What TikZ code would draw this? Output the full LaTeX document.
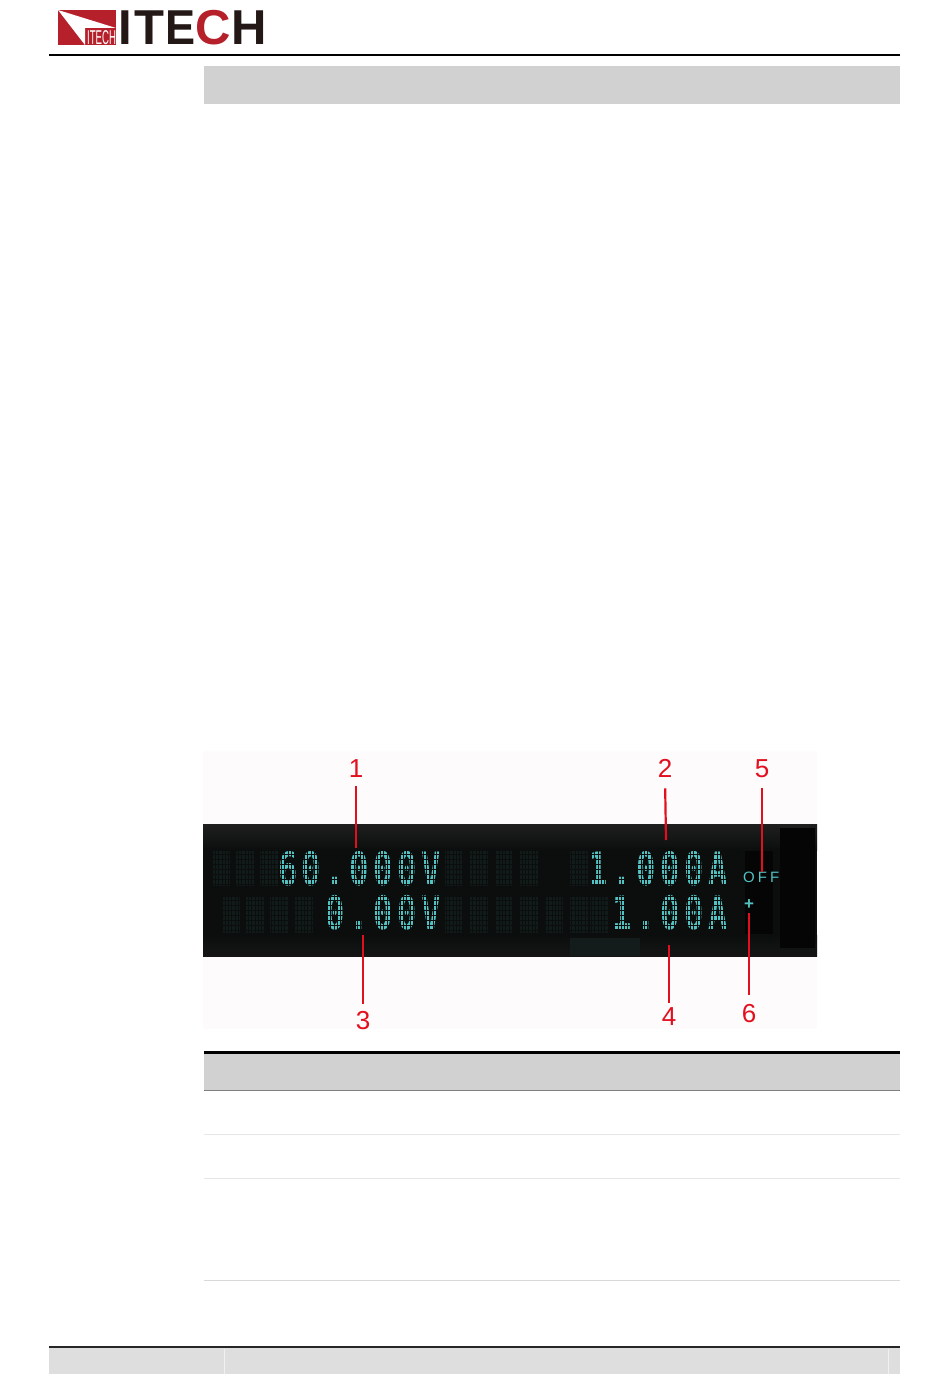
\documentclass[tikz,border=0pt]{standalone}
\usepackage{fontspec}
\setmainfont{Liberation Sans}
\newfontfamily\lcdfont[LetterSpace=14]{DejaVu Sans Mono Bold}
\newfontfamily\offfont[LetterSpace=20]{Liberation Sans}
\definecolor{logored}{HTML}{B5202A}
\definecolor{logoblack}{HTML}{231815}
\definecolor{barGray}{HTML}{D1D1D1}
\definecolor{footGray}{HTML}{DEDEDE}
\definecolor{ruleGray}{HTML}{E6E6E6}
\definecolor{imgBg}{HTML}{FDFBFB}
\definecolor{lcdBg}{HTML}{0C0E0E}
\definecolor{lcdCell}{HTML}{111B1A}
\definecolor{lcdDark}{HTML}{141C1B}
\definecolor{lcdBlack}{HTML}{050505}
\definecolor{lcdText}{HTML}{52C2C2}
\definecolor{callRed}{HTML}{E2101E}
\tikzset{
  x=1pt,y=-1pt,
  lcdtext/.style={anchor=base east,inner sep=0pt,text=lcdText,font=\lcdfont\fontsize{46}{46}\selectfont},
  calllabel/.style={inner sep=0pt,text=callRed,font=\fontsize{26}{26}\selectfont},
  callline/.style={draw=callRed,line width=2.2pt},
  thinrule/.style={draw=ruleGray,line width=1pt},
}
\newcommand{\lcdstr}[1]{\scalebox{.7}[1]{#1}}
\begin{document}
\begin{tikzpicture}
\useasboundingbox (0,0) rectangle (950,1397);
\fill[white] (0,0) rectangle (950,1397);
% logo
\fill[logored] (58,10) rectangle (116,45);
\fill[white] (58,10) -- (116,28) -- (85,28) -- (85,45) -- cycle;
\node[inner sep=0pt,text=white,anchor=base west,font=\fontsize{20}{20}\selectfont] (logosmall) at (87,45) {\scalebox{.48}[1]{ITECH}};
\node[inner sep=0pt,anchor=base west,text=logoblack,font=\bfseries\fontsize{49}{49}\selectfont] (logoword) at (118,45) {I\kern2.4pt T\kern1pt \scalebox{.92}[1]{E}\kern0pt \textcolor{logored}{C}\kern.6pt H};
% header
\draw[black,line width=2pt] (49,55) -- (900,55);
\fill[barGray] (204,66) rectangle (900,104);
% image
\fill[imgBg] (203,751) rectangle (817,1029);
\shade[top color=black!88,bottom color=lcdBg] (203,824) rectangle (817,850);
\fill[lcdBg] (203,850) rectangle (817,935);
\shade[top color=lcdBg,bottom color=black!92] (203,935) rectangle (817,956);
\fill[lcdBlack] (780,828) rectangle (815,948);
\fill[lcdBlack] (745,851) rectangle (773,934);
% ghost cells
\foreach \cx in {212,236,260,445,470,495,520,570} \fill[lcdCell] (\cx,850) rectangle ++(18,36);
\foreach \cx in {222,246,270,295,445,470,495,520,545,570,590} \fill[lcdCell] (\cx,897) rectangle ++(18,36);
\fill[lcdDark] (570,938) rectangle (640,956);
% display text
\node[lcdtext] (v1) at (441,885) {\lcdstr{60.000V}};
\node[lcdtext] (a1) at (728,885) {\lcdstr{1.000A}};
\node[lcdtext] (v2) at (441,929) {\lcdstr{0.00V}};
\node[lcdtext] (a2) at (728,929) {\lcdstr{1.00A}};
\node[anchor=base west,inner sep=0pt,text=lcdText,font=\offfont\fontsize{15}{15}\selectfont] (off) at (743,882) {OFF};
\node[inner sep=0pt,text=lcdText,font=\bfseries\fontsize{17}{17}\selectfont] (plus) at (749,905) {+};
% dot matrix grid over the display rows
\foreach \gx in {205.5,208.8,...,735} {
  \draw[lcdBg,line width=.9pt] (\gx,848) -- (\gx,887);
  \draw[lcdBg,line width=.9pt] (\gx,895) -- (\gx,935);
}
\foreach \gy in {850,854.9,...,887} \draw[lcdBg,line width=.9pt] (205,\gy) -- (735,\gy);
\foreach \gy in {896,900.9,...,935} \draw[lcdBg,line width=.9pt] (205,\gy) -- (735,\gy);
% callouts
\node[calllabel] (n1) at (356,769) {1};
\node[calllabel] (n2) at (665,768) {2};
\node[calllabel] (n5) at (762,769) {5};
\node[calllabel] (n3) at (363,1021) {3};
\node[calllabel] (n4) at (669,1017) {4};
\node[calllabel] (n6) at (749,1014) {6};
\coordinate (e1) at (356,848);
\coordinate (e2) at (666,840);
\coordinate (e5) at (762,872);
\coordinate (e3) at (363,935);
\coordinate (e4) at (669,945);
\coordinate (e6) at (749,913);
\draw[callline,shorten <=8pt] (n1) -- (e1);
\draw[callline,shorten <=11pt] (n2.south) -- (e2);
\draw[callline,shorten <=10pt] (n5) -- (e5);
\draw[callline,shorten <=8pt] (n3) -- (e3);
\draw[callline,shorten <=5pt] (n4) -- (e4);
\draw[callline,shorten <=10pt] (n6) -- (e6);
% table
\fill[barGray] (204,1053) rectangle (900,1090);
\draw[black,line width=3pt] (204,1052) -- (900,1052);
\draw[black!50,line width=1pt] (204,1090.5) -- (900,1090.5);
\draw[thinrule] (204,1134.5) -- (900,1134.5);
\draw[thinrule] (204,1178.5) -- (900,1178.5);
\draw[thinrule,draw=black!15] (204,1280.5) -- (900,1280.5);
% footer
\fill[footGray] (49,1348) rectangle (900,1374);
\draw[black!85,line width=2pt] (49,1347) -- (900,1347);
\draw[black!6,line width=.8pt] (224,1349) -- (224,1374);
\draw[black!6,line width=.8pt] (888,1349) -- (888,1374);
\end{tikzpicture}
\end{document}
